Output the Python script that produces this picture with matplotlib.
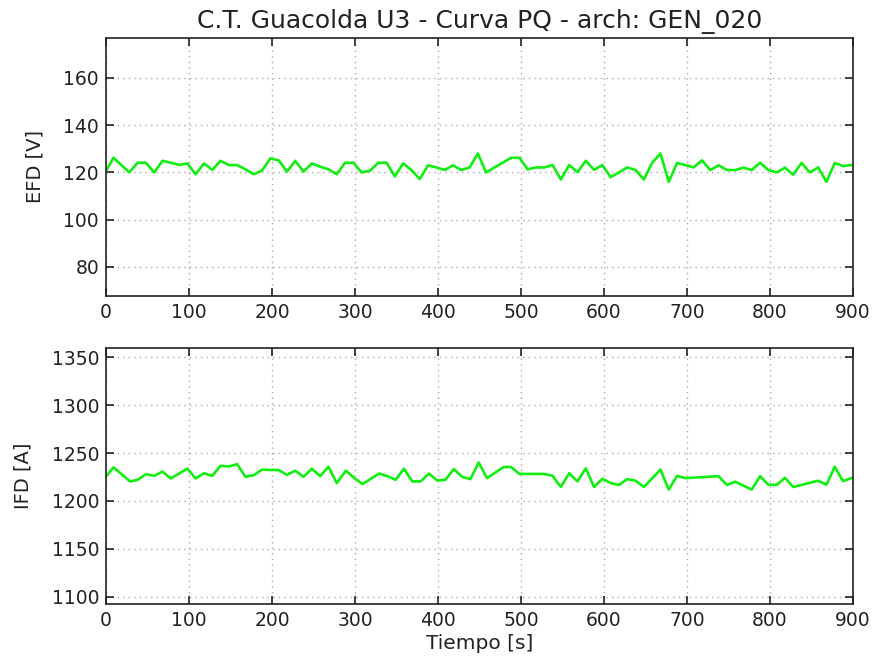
import matplotlib
matplotlib.use("Agg")
import matplotlib.pyplot as plt

# EFD (top) data
t_efd = [0, 9, 28, 38, 48, 58, 68, 78, 88, 98, 108, 118, 128, 138, 148, 158, 168, 178,
         188, 198, 208, 218, 228, 238, 248, 258, 268, 278, 288, 298, 308, 318, 328, 338,
         348, 358, 368, 378, 388, 398, 408, 418, 428, 438, 448, 458, 488, 498, 508, 518,
         528, 538, 548, 558, 568, 578, 588, 598, 608, 618, 628, 638, 648, 658, 668, 678,
         688, 698, 708, 718, 728, 738, 748, 758, 768, 778, 788, 798, 808, 818, 828, 838,
         848, 858, 868, 878, 888, 898]
efd = [120.6, 126.2, 120.0, 124.1, 124.1, 120.0, 124.9, 124.1, 123.2, 123.8, 119.2, 123.8,
       121.1, 124.9, 123.1, 123.1, 121.3, 119.2, 120.8, 125.9, 125.1, 120.3, 124.9, 120.3,
       123.8, 122.4, 121.3, 119.2, 124.1, 124.1, 120.0, 120.7, 124.1, 124.1, 118.3, 123.8,
       121.0, 117.2, 123.0, 122.1, 121.0, 123.0, 121.0, 122.1, 128.0, 120.0, 126.2, 126.2,
       121.3, 122.1, 122.1, 123.1, 117.0, 123.1, 120.1, 124.9, 121.1, 123.1, 118.0, 120.0,
       122.1, 121.0, 117.0, 124.1, 128.0, 116.0, 124.0, 123.1, 122.1, 125.1, 121.0, 123.0,
       121.0, 121.0, 122.0, 121.0, 124.1, 121.0, 120.0, 122.0, 119.0, 124.0, 120.0, 122.1,
       116.0, 124.0, 122.7, 123.1]

# IFD (bottom) data
t_ifd = [0, 9, 29, 38, 48, 58, 68, 78, 88, 98, 108, 118, 128, 138, 148, 158, 168, 178,
         188, 198, 208, 218, 228, 238, 248, 258, 268, 278, 289, 299, 309, 319, 329, 339,
         349, 359, 369, 379, 389, 399, 409, 419, 429, 439, 449, 459, 479, 488, 498, 528,
         538, 548, 558, 568, 578, 588, 598, 608, 618, 628, 638, 648, 668, 678, 688, 698,
         738, 748, 758, 778, 788, 798, 808, 818, 828, 838, 848, 858, 868, 878, 888, 898]
ifd = [1225.5, 1235.0, 1220.4, 1222.0, 1227.9, 1226.2, 1230.6, 1223.5, 1228.6, 1233.7,
       1223.5, 1228.9, 1226.2, 1236.7, 1236.0, 1238.4, 1225.2, 1226.9, 1232.7, 1232.3,
       1232.3, 1227.2, 1231.6, 1225.2, 1233.7, 1225.9, 1235.7, 1218.7, 1231.6, 1224.1,
       1217.7, 1223.1, 1228.6, 1225.9, 1222.1, 1233.7, 1220.4, 1220.4, 1228.6, 1221.4,
       1222.1, 1233.3, 1225.2, 1222.8, 1240.1, 1223.8, 1235.4, 1235.4, 1228.2, 1228.2,
       1226.2, 1214.6, 1228.9, 1220.4, 1234.0, 1214.6, 1223.1, 1218.7, 1216.7, 1222.8,
       1221.1, 1214.6, 1232.7, 1211.9, 1226.2, 1223.8, 1225.9, 1216.7, 1220.1, 1211.9,
       1225.9, 1217.0, 1216.7, 1224.1, 1214.6, 1216.7, 1219.0, 1221.1, 1217.0, 1235.7,
       1220.7, 1223.8]

title = "C.T. Guacolda U3 - Curva PQ - arch: GEN_020"
xticks = [0, 100, 200, 300, 400, 500, 600, 700, 800, 900]
efd_ticks = [80, 100, 120, 140, 160]
ifd_ticks = [1100, 1150, 1200, 1250, 1300, 1350]

plt.rcParams['font.family'] = ['DejaVu Sans']
fig = plt.figure(figsize=(8.74, 6.66), dpi=100)
ax1 = fig.add_axes([0.1213, 0.5556, 0.8547, 0.3874])
ax2 = fig.add_axes([0.1213, 0.0931, 0.8547, 0.3844])

green = '#11ee11'
txt = '#222222'
for ax, t, y, ticks, lim, lab in [
    (ax1, t_efd, efd, efd_ticks, (67.7, 176.9), 'EFD [V]'),
    (ax2, t_ifd, ifd, ifd_ticks, (1092.7, 1359.4), 'IFD [A]'),
]:
    ax.plot(t, y, color=green, lw=1.9)
    ax.set_xlim(0, 900)
    ax.set_ylim(*lim)
    ax.set_xticks(xticks)
    ax.set_yticks(ticks)
    ax.grid(True, linestyle=(0, (1, 3)), color='#aaaaaa', lw=1.0)
    ax.tick_params(direction='in', top=True, right=True, length=6, width=1.2,
                   labelsize=13.5, colors=txt, pad=5)
    ax.set_ylabel(lab, fontsize=14, color=txt)
    for s in ax.spines.values():
        s.set_linewidth(1.2)
        s.set_color(txt)

ax1.set_title(title, fontsize=18, color=txt, pad=7)
ax2.set_xlabel('Tiempo [s]', fontsize=14.5, color=txt, labelpad=3)
ax1.yaxis.set_label_coords(-0.083, 0.5)
ax2.yaxis.set_label_coords(-0.098, 0.5)

fig.savefig('out.png', dpi=100)
